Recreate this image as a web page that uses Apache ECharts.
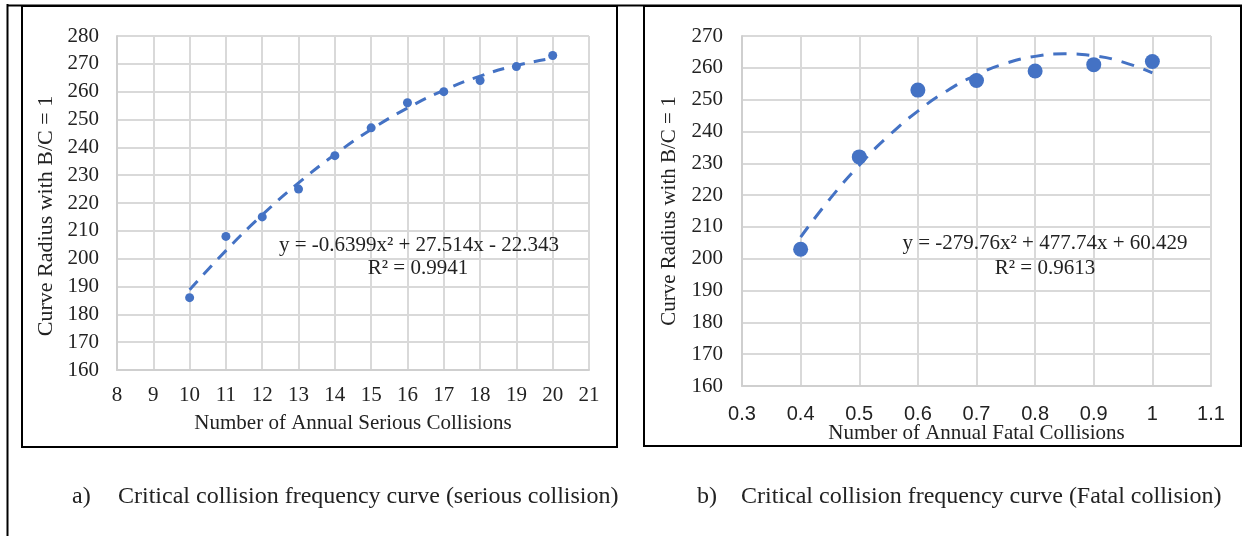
<!DOCTYPE html>
<html>
<head>
<meta charset="utf-8">
<script src="https://cdn.jsdelivr.net/npm/echarts@6/dist/echarts.min.js"></script>
<style>
html,body{margin:0;padding:0;background:#fff;}
#c{width:1250px;height:536px;}
</style>
</head>
<body>
<div id="c"></div>
<script>
// ---- data ----
const seriousX = [10, 11, 12, 13, 14, 15, 16, 17, 18, 19, 20];
const seriousR = [186, 208, 215, 225, 237, 247, 256, 260, 264, 269, 273];
const seriousTrendX = [10, 11, 12, 13, 14, 15, 16, 17, 18, 19, 20];
const seriousTrendR = [188.8, 202.9, 215.7, 227.2, 237.4, 246.4, 254.1, 260.5, 265.6, 269.4, 272.0];
const seriousEq = ['y = -0.6399x² + 27.514x - 22.343', 'R² = 0.9941'];

const fatalX = [0.4, 0.5, 0.6, 0.7, 0.8, 0.9, 1.0];
const fatalR = [203, 232, 253, 256, 259, 261, 262];
const fatalTrendX = [0.4, 0.45, 0.5, 0.55, 0.6, 0.65, 0.7, 0.75, 0.8, 0.85, 0.9, 0.95, 1.0];
const fatalTrendR = [206.8, 218.8, 229.4, 238.6, 246.4, 252.8, 257.8, 261.4, 263.6, 264.4, 263.8, 261.8, 258.4];
const fatalEq = ['y = -279.76x² + 477.74x + 60.429', 'R² = 0.9613'];

const yTitle = 'Curve Radius with B/C = 1';
const xTitleA = 'Number of Annual Serious Collisions';
const xTitleB = 'Number of Annual Fatal Collisions';
const captionA = ['a)', 'Critical collision frequency curve (serious collision)'];
const captionB = ['b)', 'Critical collision frequency curve (Fatal collision)'];

// ---- chart ----
const BLUE = '#4472C4';
const SERIF = '"Liberation Serif", "Times New Roman", serif';
const SANS = '"Liberation Sans", Arial, sans-serif';
const GRID = '#d9d9d9';
const FS = 21;

function zip(xs, ys) { return xs.map((x, i) => [x, ys[i]]); }

function valueAxis(extra) {
  return Object.assign({
    type: 'value',
    axisLine: { show: true, lineStyle: { color: '#cfcfcf', width: 2 } },
    axisTick: { show: false },
    splitLine: { show: true, lineStyle: { color: GRID, width: 2 } },
    axisLabel: { color: '#222', fontFamily: SERIF, fontSize: FS },
    nameTextStyle: { color: '#222', fontFamily: SERIF, fontSize: FS },
    nameLocation: 'middle',
    nameMoveOverlap: false
  }, extra);
}

const chart = echarts.init(document.getElementById('c'), null, { renderer: 'canvas' });

const eqText = (x, y, s) => ({
  type: 'text', x: x, y: y, z: 100,
  style: { text: s, fill: '#222', font: FS + 'px ' + SERIF, textAlign: 'center', textVerticalAlign: 'middle' }
});
const capText = (x, y, s) => ({
  type: 'text', x: x, y: y, z: 100,
  style: { text: s, fill: '#222', font: '24px ' + SERIF, textAlign: 'left', textVerticalAlign: 'middle' }
});

chart.setOption({
  animation: false,
  backgroundColor: '#fff',
  grid: [
    { left: 117, top: 36, width: 472, height: 334 },
    { left: 742, top: 36, width: 469, height: 350 }
  ],
  xAxis: [
    valueAxis({
      gridIndex: 0, min: 8, max: 21, interval: 1,
      axisLabel: { color: '#222', fontFamily: SERIF, fontSize: FS, margin: 15 },
      name: xTitleA, nameGap: 43
    }),
    valueAxis({
      gridIndex: 1, min: 0.3, max: 1.1, interval: 0.1,
      axisLabel: { color: '#222', fontFamily: SANS, fontSize: 20, margin: 18,
        formatter: v => String(Math.round(v * 10) / 10) },
      name: xTitleB, nameGap: 37
    })
  ],
  yAxis: [
    valueAxis({
      gridIndex: 0, min: 160, max: 280, interval: 10,
      axisLabel: { color: '#222', fontFamily: SERIF, fontSize: FS, margin: 18 },
      name: yTitle, nameGap: 60,
      nameTextStyle: { color: '#222', fontFamily: SERIF, fontSize: 22, padding: [0, 26, 0, 0] }
    }),
    valueAxis({
      gridIndex: 1, min: 160, max: 270, interval: 10,
      axisLabel: { color: '#222', fontFamily: SERIF, fontSize: FS, margin: 19 },
      name: yTitle, nameGap: 62
    })
  ],
  series: [
    { type: 'scatter', xAxisIndex: 0, yAxisIndex: 0, data: zip(seriousX, seriousR),
      symbol: 'circle', symbolSize: 9, itemStyle: { color: BLUE, opacity: 1 }, z: 2 },
    { type: 'line', xAxisIndex: 0, yAxisIndex: 0, data: zip(seriousTrendX, seriousTrendR),
      smooth: true, showSymbol: false, symbol: 'none', z: 3,
      lineStyle: { color: BLUE, width: 3, type: [12, 9], cap: 'butt' } },
    { type: 'scatter', xAxisIndex: 1, yAxisIndex: 1, data: zip(fatalX, fatalR),
      symbol: 'circle', symbolSize: 15, itemStyle: { color: BLUE, opacity: 1 }, z: 2 },
    { type: 'line', xAxisIndex: 1, yAxisIndex: 1, data: zip(fatalTrendX, fatalTrendR),
      smooth: true, showSymbol: false, symbol: 'none', z: 3,
      lineStyle: { color: BLUE, width: 3, type: [13, 10], cap: 'butt' } }
  ],
  graphic: [
    // frame lines
    { type: 'line', z: 50, shape: { x1: 7.5, y1: 4, x2: 7.5, y2: 536 }, style: { stroke: '#000', lineWidth: 2 } },
    { type: 'line', z: 50, shape: { x1: 7, y1: 5.5, x2: 1242, y2: 5.5 }, style: { stroke: '#000', lineWidth: 2 } },
    { type: 'rect', z: 50, shape: { x: 22, y: 6, width: 595, height: 441 }, style: { stroke: '#000', fill: null, lineWidth: 2 } },
    { type: 'rect', z: 50, shape: { x: 644, y: 6, width: 597, height: 440 }, style: { stroke: '#000', fill: null, lineWidth: 2 } },
    // trendline labels
    eqText(419, 245, seriousEq[0]),
    eqText(418, 268, seriousEq[1]),
    eqText(1045, 243, fatalEq[0]),
    eqText(1045, 268, fatalEq[1]),
    // captions
    capText(72, 497, captionA[0]),
    capText(118, 497, captionA[1]),
    capText(697, 497, captionB[0]),
    capText(741, 497, captionB[1])
  ]
});
</script>
</body>
</html>
